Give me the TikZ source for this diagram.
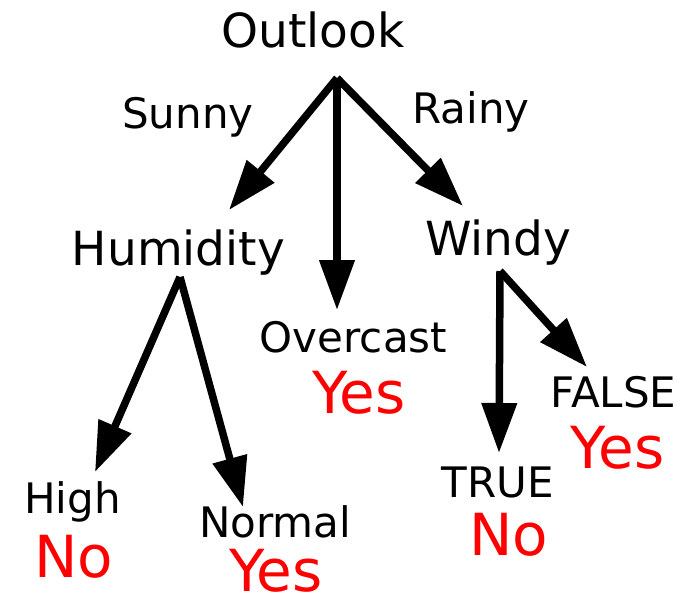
\documentclass[tikz,border=0pt]{standalone}
\usepackage{fontspec}
\setmainfont{DejaVu Sans}
\usetikzlibrary{arrows.meta}
\begin{document}
\begin{tikzpicture}[x=1pt,y=-1pt,
  lbl/.style={anchor=base,inner sep=0pt,font=\fontsize{47}{50}\selectfont},
  edgelbl/.style={anchor=base,inner sep=0pt,font=\fontsize{42}{45}\selectfont},
  leaf/.style={anchor=base,inner sep=0pt,text=red,font=\fontsize{58}{60}\selectfont},
  arr/.style={line width=7.5pt,-{Triangle[length=50pt,width=34pt]}}]
\useasboundingbox (0,0) rectangle (693,598);
% main nodes
\node[lbl] (outlook) at (313,47) {Outlook};
\node[lbl] (humidity) at (178.5,265) {Humidity};
\node[lbl] (windy) at (498,255) {Windy};
% edge labels
\node[edgelbl] (sunny) at (188,128) {Sunny};
\node[edgelbl] (rainy) at (471,123) {Rainy};
\node[edgelbl] (overcast) at (353.5,352) {Overcast};
\node[edgelbl] (high) at (72.5,513) {High};
\node[edgelbl] (normal) at (275,537) {Normal};
\node[edgelbl] (true) at (498,497) {TRUE};
\node[edgelbl] (false) at (613.5,407) {FALSE};
% leaves
\node[leaf] (yesO) at (359,413) {Yes};
\node[leaf] (noH) at (73.5,577) {No};
\node[leaf] (yesN) at (276,591) {Yes};
\node[leaf] (noT) at (508.5,555) {No};
\node[leaf] (yesF) at (617.5,468) {Yes};
% connector ends
\coordinate (oRoot) at (337,78);
\coordinate (oSunny) at (229,210);
\coordinate (oOver) at (337,310);
\coordinate (oRainy) at (463,206);
\coordinate (hRoot) at (180,277);
\coordinate (hHigh) at (95,472);
\coordinate (hNormal) at (243,507);
\coordinate (wRoot) at (500,271);
\coordinate (wTrue) at (499,453);
\coordinate (wFalse) at (587,367);
\draw[arr] (oRoot) -- (oSunny);
\draw[arr] (oRoot) -- (oOver);
\draw[arr] (oRoot) -- (oRainy);
\draw[arr] (hRoot) -- (hHigh);
\draw[arr] (hRoot) -- (hNormal);
\draw[arr] (wRoot) -- (wTrue);
\draw[arr] (wRoot) -- (wFalse);
\end{tikzpicture}
\end{document}
